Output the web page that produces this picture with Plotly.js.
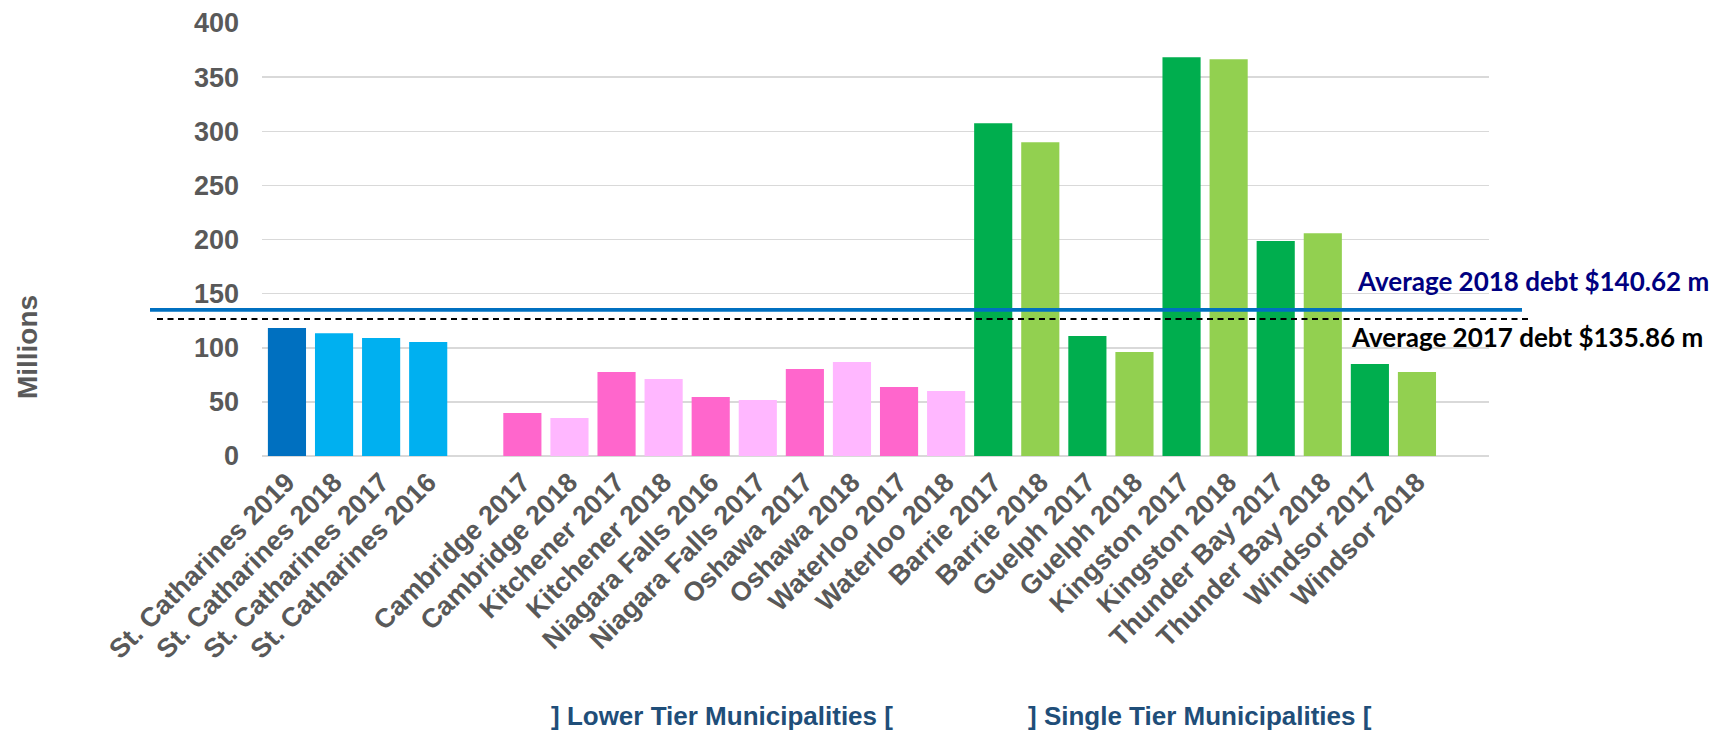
<!DOCTYPE html>
<html>
<head>
<meta charset="utf-8">
<script src="https://cdn.plot.ly/plotly-3.0.1.min.js"></script>
<style>
  html, body { margin: 0; padding: 0; background: #ffffff; }
  #chart { width: 1729px; height: 730px; }
</style>
</head>
<body>
<div id="chart"></div>
<script>
// ---- Data ----
const categories = [
  "St. Catharines 2019", "St. Catharines 2018", "St. Catharines 2017", "St. Catharines 2016",
  "Cambridge 2017", "Cambridge 2018", "Kitchener 2017", "Kitchener 2018",
  "Niagara Falls 2016", "Niagara Falls 2017", "Oshawa 2017", "Oshawa 2018",
  "Waterloo 2017", "Waterloo 2018",
  "Barrie 2017", "Barrie 2018", "Guelph 2017", "Guelph 2018",
  "Kingston 2017", "Kingston 2018", "Thunder Bay 2017", "Thunder Bay 2018",
  "Windsor 2017", "Windsor 2018"
];
const debtMillions = [
  118.2, 113.5, 108.9, 105.2,
  39.7, 35.1, 77.5, 71.1,
  54.5, 51.7, 80.3, 86.8,
  63.7, 60.0,
  307.4, 289.9, 110.8, 96.0,
  368.3, 366.5, 198.5, 205.8,
  84.9, 77.5
];
const groups = [
  "stc19", "stc", "stc", "stc",
  "lowerA", "lowerB", "lowerA", "lowerB", "lowerA", "lowerB", "lowerA", "lowerB", "lowerA", "lowerB",
  "singleA", "singleB", "singleA", "singleB", "singleA", "singleB", "singleA", "singleB", "singleA", "singleB"
];
// Average lines as drawn in the picture (on the chart's own scale)
const avgLine2018 = 135.0;
const avgLine2017 = 126.5;
const avgLabel2018 = "Average 2018 debt $140.62 m";
const avgLabel2017 = "Average 2017 debt $135.86 m";
const groupLabels = ["] Lower Tier Municipalities [", "] Single Tier Municipalities ["];
const yTicks = [0, 50, 100, 150, 200, 250, 300, 350, 400];

// ---- Styles ----
const groupColors = {
  stc19: "#0070C0", stc: "#00B0F0",
  lowerA: "#FF66CC", lowerB: "#FFB7FF",
  singleA: "#00AE4E", singleB: "#92D050"
};
const gapAfter = 4; // empty slot after the St. Catharines bars
const xPos = categories.map((c, i) => i + (i >= gapAfter ? 1 : 0));

const gray = "#595959";
const tickFont = { family: "Liberation Sans, Arial, sans-serif", size: 27, color: gray, weight: "bold" };

const trace = {
  type: "bar",
  x: xPos,
  y: debtMillions,
  marker: { color: groups.map(g => groupColors[g]), line: { width: 0 } },
  hoverinfo: "x+y",
  showlegend: false
};

const W = 1729, H = 730;
const L = 262, R = 240, T = 22.7, B = 274;
const pw = W - L - R, ph = H - T - B;
const px = x => (x - L) / pw;
const py = y => (H - B - y) / ph;

const layout = {
  width: W, height: H,
  margin: { l: L, r: R, t: T, b: B, pad: 0 },
  paper_bgcolor: "#ffffff",
  plot_bgcolor: "#ffffff",
  bargap: 0.19,
  xaxis: {
    range: [-0.53, 25.53],
    tickmode: "array",
    tickvals: xPos,
    ticktext: categories,
    tickangle: -45,
    tickfont: tickFont,
    showgrid: false,
    zeroline: false,
    showline: false,
    ticks: "",
    ticklabelstandoff: 4,
    fixedrange: true
  },
  yaxis: {
    range: [0, 400],
    tickmode: "array",
    tickvals: yTicks,
    tickfont: tickFont,
    showgrid: true,
    gridcolor: "#D9D9D9",
    gridwidth: 1.5,
    zeroline: true,
    zerolinecolor: "#D9D9D9",
    zerolinewidth: 1.5,
    showline: false,
    ticks: "",
    ticklabelstandoff: 22,
    fixedrange: true
  },
  shapes: [
    { type: "line", xref: "paper", yref: "y", x0: px(150), x1: px(1522), y0: avgLine2018, y1: avgLine2018,
      line: { color: "#0070C0", width: 3.7 }, layer: "above" },
    { type: "line", xref: "paper", yref: "y", x0: px(157), x1: px(1528), y0: avgLine2017, y1: avgLine2017,
      line: { color: "#000000", width: 2, dash: "6px,4.5px" }, layer: "above" }
  ],
  annotations: [
    { text: avgLabel2018, xref: "paper", yref: "paper", x: px(1355), y: py(281), xanchor: "left", yanchor: "middle",
      showarrow: false, font: { family: "Lato, Carlito, sans-serif", size: 26, color: "#000080", weight: "bold" } },
    { text: avgLabel2017, xref: "paper", yref: "paper", x: px(1349), y: py(337), xanchor: "left", yanchor: "middle",
      showarrow: false, font: { family: "Lato, Carlito, sans-serif", size: 26, color: "#000000", weight: "bold" } },
    { text: "Millions", xref: "paper", yref: "paper", x: px(27.5), y: py(347.5), xanchor: "center", yanchor: "middle",
      textangle: -90, showarrow: false, font: { family: "Liberation Sans, Arial, sans-serif", size: 28, color: gray, weight: "bold" } },
    { text: groupLabels[0], xref: "paper", yref: "paper", x: px(722), y: py(716), xanchor: "center", yanchor: "middle",
      showarrow: false, font: { family: "Liberation Sans, Arial, sans-serif", size: 26, color: "#1F4E79", weight: "bold" } },
    { text: groupLabels[1], xref: "paper", yref: "paper", x: px(1200), y: py(716), xanchor: "center", yanchor: "middle",
      showarrow: false, font: { family: "Liberation Sans, Arial, sans-serif", size: 26, color: "#1F4E79", weight: "bold" } }
  ]
};

Plotly.newPlot("chart", [trace], layout, { displayModeBar: false, staticPlot: true });
</script>
</body>
</html>
